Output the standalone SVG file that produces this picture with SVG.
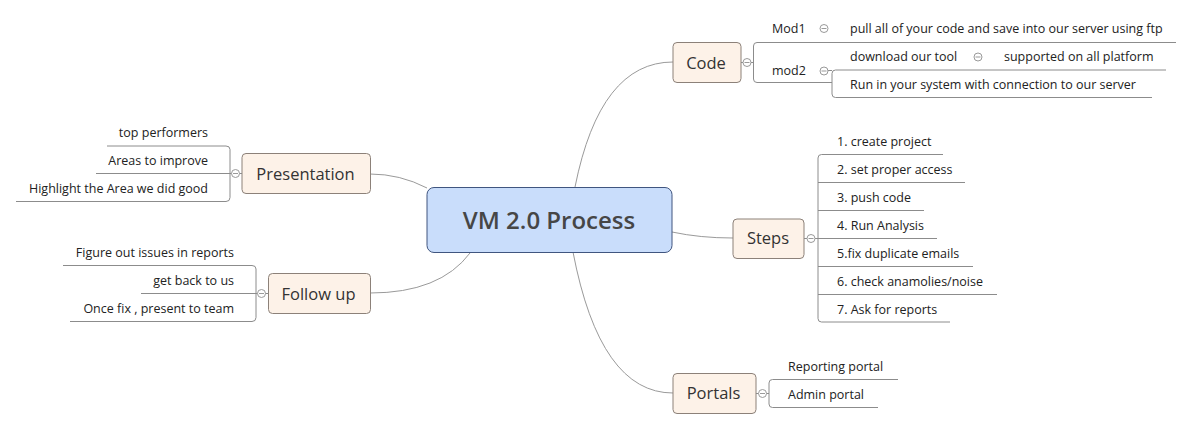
<svg xmlns="http://www.w3.org/2000/svg" width="1198" height="430" viewBox="0 0 1198 430">
<style>
  .bg{fill:#ffffff}
  .conn{fill:none;stroke:#9a9a9a;stroke-width:1}
  .br{fill:none;stroke:#8c8c8c;stroke-width:1}
  .topic{fill:#fdf2e8;stroke:#8c8179;stroke-width:1}
  .central{fill:#c9ddfb;stroke:#40557f;stroke-width:1}
  .tt{font-family:"Open Sans","Noto Sans","DejaVu Sans",sans-serif;font-size:16.5px;fill:#333333;text-anchor:middle}
  .ct{font-family:"Open Sans","Noto Sans","DejaVu Sans",sans-serif;font-size:24px;font-weight:600;fill:#464646;text-anchor:middle}
  .st{font-family:"Open Sans","Noto Sans","DejaVu Sans",sans-serif;font-size:12.5px;fill:#222222}
  .end{text-anchor:end}
  .col circle{fill:#ffffff;stroke:#9a9a9a;stroke-width:1}
  .col line{stroke:#9a9a9a;stroke-width:1}
</style>
<defs>
  <g id="collapse" class="col"><circle cx="0" cy="0" r="4"/><line x1="-2.5" y1="0" x2="2.5" y2="0"/></g>
</defs>
<rect class="bg" x="0" y="0" width="1198" height="430"/>

<g id="connectors">
  <path class="conn" d="M575,187 Q600,62 673,62"/>
  <path class="conn" d="M672,232 Q700,238 733,238"/>
  <path class="conn" d="M573,252 Q600,393 673,393"/>
  <path class="conn" d="M427,188 Q400,174 370,174"/>
  <path class="conn" d="M470,253 Q440,293 370,293"/>
</g>

<g id="central">
  <rect class="central" x="427" y="187.5" width="245" height="65" rx="7"/>
  <text class="ct" x="549" y="229">VM 2.0 Process</text>
</g>

<g id="code">
  <rect class="topic" x="673" y="42.5" width="68" height="40" rx="4"/>
  <text class="tt" x="706" y="68.5">Code</text>
  <path class="br" d="M741,62.5 H753.5"/>
  <path class="br" d="M1176,42.5 H757 Q753.5,42.5 753.5,46 V79 Q753.5,82.5 757,82.5 H832"/>
  <use href="#collapse" x="747" y="62.5"/>
  <text class="st" x="772" y="33">Mod1</text>
  <use href="#collapse" x="824" y="28.5"/>
  <text class="st" x="850" y="33">pull all of your code and save into our server using ftp</text>
  <text class="st" x="772" y="75">mod2</text>
  <path class="br" d="M1166,70 H835.5 Q832,70 832,73.5 V94 Q832,97.5 835.5,97.5 H1152"/>
  <path class="br" d="M828,70.5 H832"/>
  <use href="#collapse" x="824" y="71"/>
  <text class="st" x="850" y="61">download our tool</text>
  <use href="#collapse" x="978" y="57"/>
  <text class="st" x="1004" y="61">supported on all platform</text>
  <text class="st" x="850" y="89">Run in your system with connection to our server</text>
</g>

<g id="steps">
  <rect class="topic" x="733" y="219" width="71" height="39.5" rx="4"/>
  <text class="tt" x="768" y="244">Steps</text>
  <path class="br" d="M943,154.5 H821.5 Q818,154.5 818,158 V318.5 Q818,322 821.5,322 H950"/>
  <path class="br" d="M818,182.5 H965 M818,210.5 H924 M804,238.5 H937 M818,266.5 H973 M818,294.5 H997"/>
  <use href="#collapse" x="811" y="238.5"/>
  <text class="st" x="837" y="146">1. create project</text>
  <text class="st" x="837" y="174">2. set proper access</text>
  <text class="st" x="837" y="202">3. push code</text>
  <text class="st" x="837" y="230">4. Run Analysis</text>
  <text class="st" x="837" y="258">5.fix duplicate emails</text>
  <text class="st" x="837" y="286">6. check anamolies/noise</text>
  <text class="st" x="837" y="314">7. Ask for reports</text>
</g>

<g id="portals">
  <rect class="topic" x="673" y="373.5" width="83" height="40" rx="4"/>
  <text class="tt" x="713.5" y="399">Portals</text>
  <path class="br" d="M756,393.5 H769"/>
  <path class="br" d="M898,379.5 H772.5 Q769,379.5 769,383 V404 Q769,407.5 772.5,407.5 H878"/>
  <use href="#collapse" x="762.5" y="393.5"/>
  <text class="st" x="788" y="371">Reporting portal</text>
  <text class="st" x="788" y="399">Admin portal</text>
</g>

<g id="presentation">
  <rect class="topic" x="242" y="153.5" width="128.5" height="40" rx="4"/>
  <text class="tt" x="305.5" y="179.5">Presentation</text>
  <path class="br" d="M107,146 H226 Q230,146 230,149.5 V197.5 Q230,201.5 226,201.5 H16"/>
  <path class="br" d="M96,173.5 H242"/>
  <use href="#collapse" x="235.5" y="173.5"/>
  <text class="st end" x="208" y="137">top performers</text>
  <text class="st end" x="208" y="165">Areas to improve</text>
  <text class="st end" x="208" y="193">Highlight the Area we did good</text>
</g>

<g id="followup">
  <rect class="topic" x="268.5" y="273.5" width="102" height="40" rx="4"/>
  <text class="tt" x="318.5" y="299.5">Follow up</text>
  <path class="br" d="M63,265.5 H252 Q256,265.5 256,269 V317.5 Q256,321.5 252,321.5 H70"/>
  <path class="br" d="M141,293.5 H268.5"/>
  <use href="#collapse" x="261.5" y="293.5"/>
  <text class="st end" x="234" y="257">Figure out issues in reports</text>
  <text class="st end" x="234" y="285">get back to us</text>
  <text class="st end" x="234" y="313">Once fix , present to team</text>
</g>
</svg>
